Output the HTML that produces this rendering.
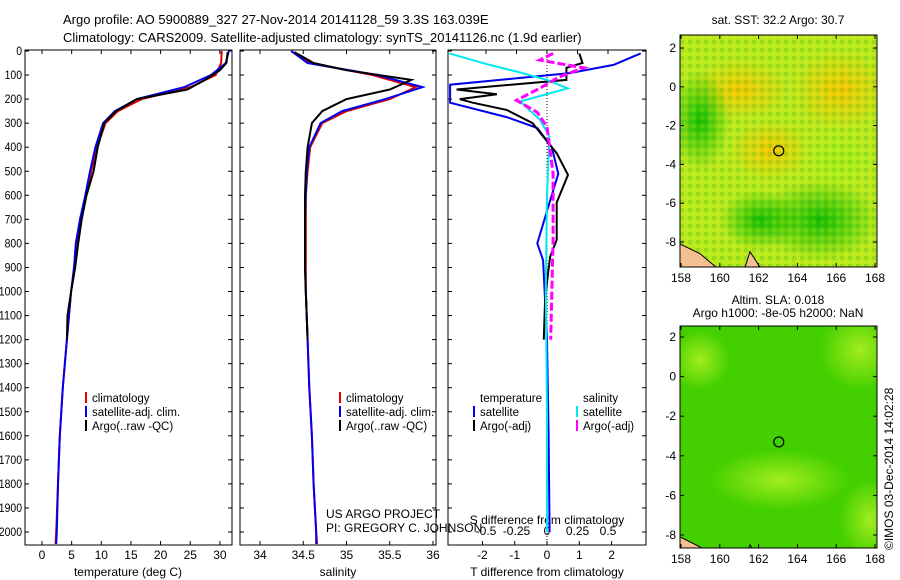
<!DOCTYPE html>
<html><head><meta charset="utf-8"><style>
body{margin:0;background:#fff;}
svg{display:block;font-family:"Liberation Sans",sans-serif;}
</style></head><body>
<svg id="c" width="900" height="580">
<defs>
<radialGradient id="yb"><stop offset="0" stop-color="#ffc000" stop-opacity="0.85"/><stop offset="1" stop-color="#ffc000" stop-opacity="0"/></radialGradient>
<radialGradient id="gb"><stop offset="0" stop-color="#00b800" stop-opacity="0.9"/><stop offset="1" stop-color="#00b800" stop-opacity="0"/></radialGradient>
<radialGradient id="lb"><stop offset="0" stop-color="#a8ee20" stop-opacity="0.95"/><stop offset="1" stop-color="#a8ee20" stop-opacity="0"/></radialGradient>
<pattern id="px" width="8" height="8" patternUnits="userSpaceOnUse"><rect width="4" height="4" fill="#00a000" opacity="0.18"/><rect x="4" y="4" width="4" height="4" fill="#ffff00" opacity="0.15"/></pattern>
<clipPath id="c1"><rect x="680" y="35" width="197" height="232"/></clipPath>
<clipPath id="c2"><rect x="680" y="326" width="197" height="222"/></clipPath>
</defs>
<text x="63" y="24" font-size="13">Argo profile: AO 5900889_327 27-Nov-2014 20141128_59 3.3S 163.039E</text>
<text x="63" y="42" font-size="13">Climatology: CARS2009. Satellite-adjusted climatology: synTS_20141126.nc (1.9d earlier)</text>
<g id="plots"></g>
<g id="maps"></g>
<text transform="translate(893,550) rotate(-90)" font-size="12">©IMOS 03-Dec-2014 14:02:28</text>
</svg>
<script>
// ---- data ----
const depthT = [0,50,100,150,200,250,300,400,500,600,700,800,900,1000,1200,1400,1600,1800,2000,2050];
const tempClim = [30.3,30.2,29.3,25,16.8,12.8,10.7,9.3,8.3,7.4,6.6,6.0,5.5,4.9,4.2,3.5,3.0,2.7,2.4,2.3];
const tempSat  = [31.5,31,28.5,24,16,12.3,10.3,9.0,8.1,7.3,6.4,5.7,5.4,4.9,4.2,3.5,3.0,2.7,2.5,2.4];
const depthA = [5,50,80,120,160,200,250,300,400,500,600,700,800,900,1000,1100,1200];
const tempArgo = [31.3,31.1,30,27.5,24.5,16,12.5,10.5,9.4,8.7,7.5,6.7,6.1,5.6,4.9,4.3,4.2];
const salClim = [34.36,34.58,35.3,35.8,35.5,35.0,34.72,34.58,34.55,34.53,34.53,34.53,34.53,34.53,34.55,34.57,34.6,34.62,34.65,34.66];
const salSat  = [34.36,34.55,35.35,35.88,35.45,34.95,34.7,34.57,34.54,34.53,34.52,34.52,34.52,34.53,34.55,34.57,34.6,34.62,34.65,34.65];
const salArgo = [34.4,34.62,35.0,35.75,35.5,35.0,34.72,34.6,34.55,34.53,34.52,34.52,34.52,34.52,34.53,34.54,34.55];
const depthD = [10,58,92,140,215,275,320,400,510,665,800,870,1200,1600,2000];
const dTsat = [2.9,2.06,0.7,-3,-3,-1.25,-0.3,0.15,0.35,0,-0.3,-0.12,0,0.05,0.08];
const depthDA = [10,50,70,120,160,180,200,215,245,300,355,425,515,630,785,855,925,1035,1200];
const dTargo = [1.0,1.1,0.6,0.6,-2.8,-1.55,-2.7,-2.3,-1.25,-0.45,-0.12,0.3,0.65,0.3,0.3,0.1,0.03,-0.06,-0.1];
const depthS = [10,58,92,120,155,210,285,355,600,1000,1500,2000];
const dSsat = [-0.8,-0.47,-0.2,0,0.17,-0.22,-0.06,0.02,0,-0.01,0,0];
const depthSA = [10,38,70,108,155,205,255,315,510,785,1200];
const dSargo = [0.05,-0.06,0.3,0.1,-0.06,-0.25,-0.08,0,0.05,0.05,0.03];
const depthTicks = [0,100,200,300,400,500,600,700,800,900,1000,1100,1200,1300,1400,1500,1600,1700,1800,1900,2000];
const tTicks = [0,5,10,15,20,25,30];
const sTicks = [34,34.5,35,35.5,36];
const dtTicks = [-2,-1,0,1,2];
const dsTicks = [-0.5,-0.25,0,0.25,0.5];
const lonTicks = [158,160,162,164,166,168];
const latTicks = [2,0,-2,-4,-6,-8];
const argoLon = [163.039], argoLat = [-3.3];

const NS="http://www.w3.org/2000/svg";
function mk(tag,attrs,parent){const e=document.createElementNS(NS,tag);for(const k in attrs)e.setAttribute(k,attrs[k]);parent.appendChild(e);return e;}
const G=document.getElementById('plots'), M=document.getElementById('maps');
const Y0=51, YS=0.2405; const yD=d=>Y0+d*YS;
const panels=[
 {x0:25,x1:232,fx:v=>42+v*5.93,name:'temperature'},
 {x0:240,x1:436,fx:v=>260+(v-34)*86.5,name:'salinity'},
 {x0:448,x1:646,fx:v=>547+v*32.3,name:'t-diff'}
];
const fs=v=>547+v*122;
function line(xs,ds,fx,color,w,name,dash){
 const p=xs.map((v,i)=>(i?'L':'M')+fx(v).toFixed(1)+','+yD(ds[i]).toFixed(1)).join('');
 const e=mk('path',{d:p,fill:'none',stroke:color,'stroke-width':w},G);
 if(dash)e.setAttribute('stroke-dasharray',dash);
 
 
}
function txt(x,y,s,parent,anchor,size){const t=mk('text',{x:x,y:y,'font-size':size||12,'text-anchor':anchor||'start'},parent);t.textContent=s;return t;}
panels.forEach((P,i)=>{
 const r=mk('rect',{x:P.x0,y:50,width:P.x1-P.x0,height:495,fill:'none',stroke:'#000','stroke-width':1},G);
 
 
 depthTicks.forEach(d=>{mk('line',{x1:P.x0,x2:P.x0+4,y1:yD(d),y2:yD(d),stroke:'#000'},G);mk('line',{x1:P.x1,x2:P.x1-4,y1:yD(d),y2:yD(d),stroke:'#000'},G);
  if(i==0){const s=String(d);const t=txt(P.x0-3,yD(d)+4,s,G,'end',12);t.setAttribute('textLength',s.length*5.8);t.setAttribute('lengthAdjust','spacingAndGlyphs');}});
});
tTicks.forEach(v=>{const x=panels[0].fx(v);mk('line',{x1:x,x2:x,y1:545,y2:541,stroke:'#000'},G);mk('line',{x1:x,x2:x,y1:50,y2:54,stroke:'#000'},G);txt(x,559,String(v),G,'middle');});
sTicks.forEach(v=>{const x=panels[1].fx(v);mk('line',{x1:x,x2:x,y1:545,y2:541,stroke:'#000'},G);mk('line',{x1:x,x2:x,y1:50,y2:54,stroke:'#000'},G);txt(x,559,String(v),G,'middle');});
dtTicks.forEach(v=>{const x=panels[2].fx(v);mk('line',{x1:x,x2:x,y1:545,y2:541,stroke:'#000'},G);txt(x,559,String(v),G,'middle');});
dsTicks.forEach(v=>{const x=fs(v);mk('line',{x1:x,x2:x,y1:50,y2:54,stroke:'#000'},G);txt(x,535,String(v),G,'middle');});
txt(128,576,'temperature (deg C)',G,'middle');
txt(338,576,'salinity',G,'middle');
txt(547,576,'T difference from climatology',G,'middle');
txt(547,524,'S difference from climatology',G,'middle');
mk('line',{x1:547,x2:547,y1:50,y2:545,stroke:'#000','stroke-dasharray':'1,2'},G);
// series
line(tempClim,depthT,panels[0].fx,'#e00000',2,'temp-climatology-line');
line(tempSat,depthT,panels[0].fx,'#0000ee',2,'temp-satellite-line');
line(tempArgo,depthA,panels[0].fx,'#000',2,'temp-argo-line');
line(salClim,depthT,panels[1].fx,'#e00000',2,'sal-climatology-line');
line(salSat,depthT,panels[1].fx,'#0000ee',2,'sal-satellite-line');
line(salArgo,depthA,panels[1].fx,'#000',2,'sal-argo-line');
line(dTsat,depthD,panels[2].fx,'#0000ee',2,'tdiff-satellite-line');
line(dTargo,depthDA,panels[2].fx,'#000',2,'tdiff-argo-line');
line(dSsat,depthS,fs,'#00e8f0',2,'sdiff-satellite-line');
line(dSargo,depthSA,fs,'#ff00ff',3,'sdiff-argo-line','8,3');
// legends
function leg(x,y,c,s){mk('line',{x1:x,x2:x,y1:y-10,y2:y+1,stroke:c,'stroke-width':2},G);txt(x+6,y,s,G,'start',11.5);}
[[0,'#e00000','climatology'],[1,'#0000ee','satellite-adj. clim.'],[2,'#000','Argo(..raw -QC)']].forEach(a=>{leg(86,402+a[0]*14,a[1],a[2]);leg(340,402+a[0]*14,a[1],a[2]);});
txt(480,402,'temperature',G,'start',11.5);txt(583,402,'salinity',G,'start',11.5);
leg(474,416,'#0000ee','satellite');leg(474,430,'#000','Argo(-adj)');
leg(577,416,'#00e8f0','satellite');leg(577,430,'#ff00ff','Argo(-adj)');
txt(326,518,'US ARGO PROJECT',G);txt(326,532,'PI: GREGORY C. JOHNSON',G);
// maps
function map(y0,y1,base,blobs,name,clip){
 const g=mk('g',{},M);
 const inner=mk('g',{'clip-path':'url(#'+clip+')'},g);
 mk('rect',{x:680,y:y0,width:197,height:y1-y0,fill:base},inner);
 blobs.forEach(b=>mk('ellipse',{cx:b[0],cy:b[1],rx:b[2],ry:b[3],fill:'url(#'+b[4]+')'},inner));
 return [g,inner];
}
const lonX=v=>681+(v-158)*19.4;
function axesMap(g,inner,y0,y1,latY){
 mk('path',{d:`M680,${latY(-8.1)} L700,${latY(-8.6)} L716,${latY(-9.3)} L680,${latY(-9.3)}Z`,fill:'#f5c090',stroke:'#000'},inner);
 mk('path',{d:`M750,${latY(-8.5)} L760,${latY(-9.3)} L745,${latY(-9.3)}Z`,fill:'#f5c090',stroke:'#000'},inner);
 mk('rect',{x:680,y:y0,width:197,height:y1-y0,fill:'none',stroke:'#000'},g);
 lonTicks.forEach(v=>{const x=lonX(v);mk('line',{x1:x,x2:x,y1:y1,y2:y1-4,stroke:'#000'},g);mk('line',{x1:x,x2:x,y1:y0,y2:y0+4,stroke:'#000'},g);txt(x,y1+15,String(v),g,'middle');});
 latTicks.forEach(v=>{const y=latY(v);mk('line',{x1:680,x2:684,y1:y,y2:y,stroke:'#000'},g);mk('line',{x1:877,x2:873,y1:y,y2:y,stroke:'#000'},g);txt(676,y+4,String(v),g,'end');});
 const c=mk('circle',{cx:lonX(argoLon[0]),cy:latY(argoLat[0]),r:5,fill:'none',stroke:'#000','stroke-width':1.2},g);
 
 
}
const lat1=v=>48+(2-v)*19.4;
const m1=map(35,267,'#b8e820',[[840,90,50,40,'yb'],[740,90,50,30,'yb'],[770,150,40,30,'yb'],[820,220,60,40,'gb'],[700,120,30,50,'gb'],[760,220,40,30,'gb'],[840,160,40,30,'lb']],'sst-map','c1');
mk('rect',{x:680,y:35,width:197,height:232,fill:'url(#px)'},m1[1]);
axesMap(m1[0],m1[1],35,267,lat1);
txt(778,24,'sat. SST: 32.2  Argo: 30.7',M,'middle');
const lat2=v=>337+(2-v)*19.8;
const m2=map(326,548,'#44d000',[[860,350,40,40,'lb'],[700,360,30,30,'lb'],[780,480,70,30,'lb'],[870,520,30,40,'lb']],'sla-map','c2');
axesMap(m2[0],m2[1],326,548,lat2);
txt(778,304,'Altim. SLA: 0.018',M,'middle');
txt(778,317,'Argo h1000: -8e-05 h2000: NaN',M,'middle');
</script>
</body></html>
